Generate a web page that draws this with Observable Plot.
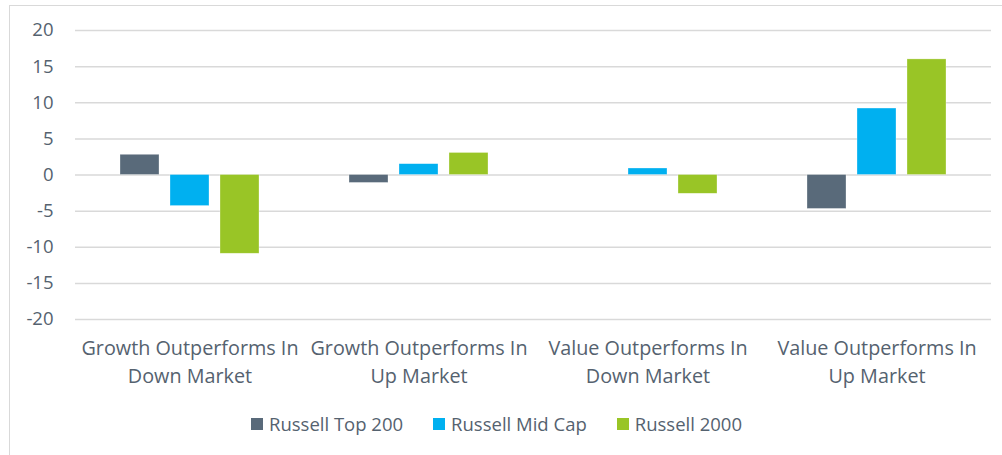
<!DOCTYPE html>
<html>
<head>
<meta charset="utf-8">
<script src="https://cdn.jsdelivr.net/npm/d3@7"></script>
<script src="https://cdn.jsdelivr.net/npm/@observablehq/plot@0.6"></script>
<style>
  html, body { margin: 0; padding: 0; background: #fff; overflow: hidden; width: 1002px; height: 455px; }
  #frame { position: absolute; left: 9px; top: 5px; width: 1200px; height: 600px; border: 1.5px solid #d9d9d9; box-sizing: border-box; }
  #chart { position: absolute; left: 0; top: 0; }
  #legend { position: absolute; top: 411px; left: 0; width: 993px; display: flex; justify-content: center; gap: 30px;
    font-family: "Open Sans", sans-serif; font-size: 18.5px; color: #55626f; }
  #legend .item { display: flex; align-items: center; gap: 6px; }
  #legend .sw { width: 12px; height: 12px; display: inline-block; }
</style>
</head>
<body>
<div id="frame"></div>
<div id="chart"></div>
<div id="legend"></div>
<script>
const categories = [
  "Growth Outperforms In Down Market",
  "Growth Outperforms In Up Market",
  "Value Outperforms In Down Market",
  "Value Outperforms In Up Market"
];
const seriesNames = ["Russell Top 200", "Russell Mid Cap", "Russell 2000"];
const seriesColors = ["#596a7a", "#00b0f0", "#99c526"];
const top200 = [2.8, -1.1, 0, -4.7];
const midCap = [-4.3, 1.5, 0.9, 9.2];
const russell2000 = [-10.9, 3.05, -2.6, 16.0];
const yTicks = [-20, -15, -10, -5, 0, 5, 10, 15, 20];

const seriesValues = [top200, midCap, russell2000];
const data = [];
categories.forEach((c, i) => {
  seriesNames.forEach((s, j) => data.push({category: c, series: s, value: seriesValues[j][i]}));
});

const font = "'Open Sans', sans-serif";
const textColor = "#55626f";

const chart = Plot.plot({
  width: 1002,
  height: 400,
  marginLeft: 74,
  marginRight: 10,
  marginTop: 30,
  marginBottom: 81,
  style: {fontFamily: font, fontSize: "18.5px", color: textColor, background: "transparent"},
  fx: {domain: categories, paddingInner: 0, paddingOuter: 0, label: null},
  x: {domain: seriesNames, paddingInner: 0.2157, paddingOuter: 0.856, axis: null},
  y: {domain: [-20, 20], label: null},
  color: {domain: seriesNames, range: seriesColors},
  marks: [
    Plot.ruleY(yTicks, {stroke: "#d9d9d9", strokeWidth: 1.5}),
    Plot.barY(data, {fx: "category", x: "series", y: "value", fill: "series", stroke: "#ffffff", strokeOpacity: 0.5, strokeWidth: 0.6}),
    Plot.axisY({ticks: yTicks, tickSize: 0, tickPadding: 22, fontSize: 18.5, fill: textColor, label: null, tickFormat: d => String(d)}),
    Plot.axisFx({anchor: "bottom", tickSize: 0, tickPadding: 16, fontSize: 19.8, fill: textColor, lineHeight: 1.41, label: null,
      tickFormat: d => d.replace(/ (Down|Up) Market$/, "\n$1 Market")})
  ]
});
document.getElementById("chart").appendChild(chart);

const legend = document.getElementById("legend");
seriesNames.forEach((s, i) => {
  const item = document.createElement("div");
  item.className = "item";
  const sw = document.createElement("span");
  sw.className = "sw";
  sw.style.background = seriesColors[i];
  const label = document.createElement("span");
  label.textContent = s;
  item.appendChild(sw);
  item.appendChild(label);
  legend.appendChild(item);
});
</script>
</body>
</html>
